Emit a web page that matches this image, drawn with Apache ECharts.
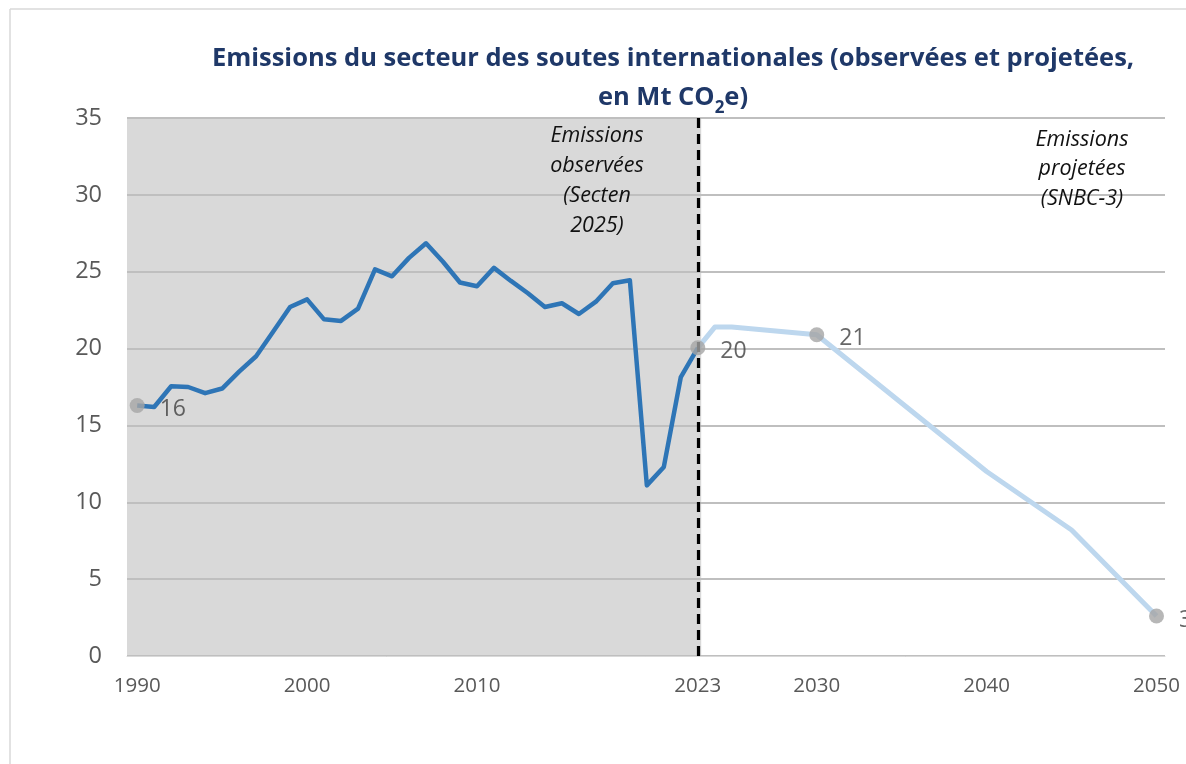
<!DOCTYPE html>
<html><head><meta charset="utf-8">
<script src="https://cdn.jsdelivr.net/npm/echarts@6/dist/echarts.min.js"></script>
<style>html,body{margin:0;padding:0;background:#fff}#c{width:1186px;height:764px}</style>
</head><body><div id="c"></div>
<script>
const obsYears = [1990,1991,1992,1993,1994,1995,1996,1997,1998,1999,2000,2001,2002,2003,2004,2005,2006,2007,2008,2009,2010,2011,2012,2013,2014,2015,2016,2017,2018,2019,2020,2021,2022,2023];
const obsValues = [16.3,16.2,17.55,17.5,17.1,17.4,18.5,19.5,21.1,22.7,23.2,21.9,21.8,22.6,25.15,24.7,25.9,26.85,25.65,24.3,24.05,25.25,24.4,23.6,22.7,22.95,22.25,23.05,24.25,24.45,11.1,12.3,18.15,20.05];
const projYears = [2023,2024,2025,2030,2040,2045,2050];
const projValues = [20.05,21.4,21.4,20.9,12.0,8.2,2.6];
const labelYears = [1990,2023,2030,2050];
const xTickLabels = [1990,2000,2010,2023,2030,2040,2050];
const splitYear = 2023;

const allYears = obsYears.concat(projYears);
const allValues = obsValues.concat(projValues);
const markerData = labelYears.map(y => [y, allValues[allYears.indexOf(y)]]);

const FONT = "'Open Sans'";
const chart = echarts.init(document.getElementById('c'));
chart.setOption({
  animation: false,
  grid: {left: 127, right: 21, top: 118, bottom: 108, containLabel: false},
  xAxis: {
    type: 'value', min: 1989.4, max: 2050.5, z: 2,
    axisLine: {show: true, lineStyle: {color: '#d9d9d9', width: 1}},
    axisTick: {show: false},
    splitLine: {show: false},
    axisLabel: {customValues: xTickLabels, color: '#595959', fontSize: 20.5, fontFamily: FONT, margin: 20, formatter: v => String(v)}
  },
  yAxis: {
    type: 'value', min: 0, max: 35, interval: 5, z: 2,
    axisLine: {show: false}, axisTick: {show: false},
    splitLine: {show: true, lineStyle: {color: '#bfbfbf', width: 2}},
    axisLabel: {color: '#595959', fontSize: 23.5, fontFamily: FONT, margin: 25}
  },
  graphic: [
    {type: 'line', shape: {x1: 10, y1: 9, x2: 1186, y2: 9}, style: {stroke: '#d9d9d9', lineWidth: 1.5}, z: 0},
    {type: 'line', shape: {x1: 10, y1: 9, x2: 10, y2: 764}, style: {stroke: '#d9d9d9', lineWidth: 1.5}, z: 0},
    {type: 'text', x: 673, y: 46, z: 10, style: {
      text: 'Emissions du secteur des soutes internationales (observées et projetées,',
      align: 'center', font: "bold 25.5px 'Open Sans'", fill: '#1f3868'
    }},
    {type: 'text', x: 673, y: 79, z: 10, style: {
      text: '{n|en Mt CO}{sub|2}{n|e)}',
      align: 'center',
      rich: {
        n: {font: "bold 25.5px 'Open Sans'", fill: '#1f3868', lineHeight: 38, verticalAlign: 'middle'},
        sub: {font: "bold 17px 'Open Sans'", fill: '#1f3868', lineHeight: 38, verticalAlign: 'bottom'}
      }
    }},
    {type: 'text', x: 597, y: 121, z: 10, style: {text: 'Emissions\nobservées\n(Secten\n2025)', align: 'center', font: "italic 21.5px 'Open Sans'", fill: '#111', lineHeight: 30}},
    {type: 'text', x: 1082, y: 125, z: 10, style: {text: 'Emissions\nprojetées\n(SNBC-3)', align: 'center', font: "italic 21.5px 'Open Sans'", fill: '#111', lineHeight: 29.5}}
  ],
  series: [
    {
      type: 'line', name: 'zone', data: [], z: 1, silent: true,
      markArea: {silent: true, itemStyle: {color: '#d9d9d9'}, data: [[{xAxis: 1989.4}, {xAxis: splitYear + 0.2}]]}
    },
    {
      type: 'line', name: 'Observées', data: obsYears.map((y,i) => [y, obsValues[i]]),
      showSymbol: false, symbol: 'none', z: 4,
      lineStyle: {color: '#2e75b6', width: 4.5, join: 'round'},
      markLine: {silent: true, symbol: ['none','none'], label: {show: false},
        lineStyle: {color: '#000', type: [10,6], width: 3.2},
        data: [[{coord: [splitYear, 0]}, {coord: [splitYear, 35]}]]}
    },
    {
      type: 'line', name: 'Projetées', data: projYears.map((y,i) => [y, projValues[i]]),
      showSymbol: false, symbol: 'none', z: 3,
      lineStyle: {color: '#bdd7ee', width: 5, join: 'round'}
    },
    {
      type: 'scatter', data: markerData, symbolSize: 15, z: 6,
      itemStyle: {color: '#a5a5a5'},
      label: {show: true, position: 'right', distance: 15, offset: [0, 4], color: '#404040', fontSize: 23, fontFamily: FONT,
        formatter: p => String(Math.round(p.value[1]))}
    }
  ]
});
</script></body></html>
